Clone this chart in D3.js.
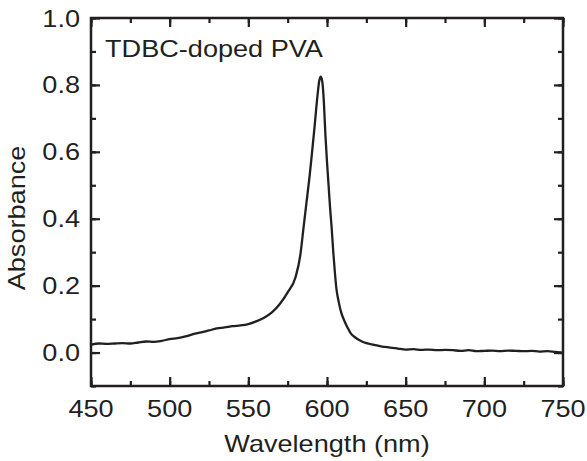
<!DOCTYPE html>
<html>
<head>
<meta charset="utf-8">
<title>TDBC-doped PVA absorbance</title>
<script src="https://d3js.org/d3.v7.min.js"></script>
<style>
  body { margin: 0; background: #fff; }
  svg { display: block; }
  text { font-family: "Liberation Sans", Arial, sans-serif; fill: #231f20; }
</style>
</head>
<body>
<svg id="chart" width="587" height="461"></svg>
<script>
// wavelength (nm) and absorbance
var wavelength = [450, 455, 460, 465, 470, 475, 480, 485, 490, 495, 500, 505, 510, 515, 520, 525, 530, 535, 540, 545,
  550, 555, 560, 565, 570, 575, 580, 583, 585, 587, 589, 590, 592, 594, 595, 596, 597, 598, 599, 600,
  601, 602, 603, 604, 605, 606, 607.5, 609, 611, 613, 615, 618, 621, 625, 630, 635, 640, 645, 650, 655,
  660, 665, 670, 675, 680, 685, 690, 695, 700, 705, 710, 715, 720, 725, 730, 735, 740, 745, 750];
var absorbance = [0.024, 0.027, 0.026, 0.027, 0.028, 0.027, 0.030, 0.033, 0.032, 0.035, 0.040, 0.043, 0.048, 0.055, 0.060, 0.066, 0.072, 0.075, 0.079, 0.081,
  0.085, 0.093, 0.104, 0.120, 0.145, 0.180, 0.225, 0.29, 0.37, 0.45, 0.53, 0.575, 0.67, 0.77, 0.81, 0.825, 0.81, 0.75, 0.65, 0.57,
  0.50, 0.43, 0.37, 0.30, 0.24, 0.19, 0.15, 0.12, 0.095, 0.075, 0.058, 0.045, 0.036, 0.028, 0.023, 0.018, 0.015, 0.012, 0.009, 0.010,
  0.008, 0.009, 0.007, 0.008, 0.007, 0.005, 0.007, 0.004, 0.005, 0.006, 0.004, 0.006, 0.005, 0.004, 0.005, 0.003, 0.004, 0.002, 0.0];

var xTicks = [450, 500, 550, 600, 650, 700, 750];
var yTicks = [0.0, 0.2, 0.4, 0.6, 0.8, 1.0];
var label = "TDBC-doped PVA";

var ink = "#231f20";
var stretch = 1.13;   // text in the picture is a bit wide
var marginLeft = 91, marginTop = 18, width = 472, height = 368;

var svg = d3.select("#chart");
var g = svg.append("g").attr("transform", "translate(" + marginLeft + "," + marginTop + ")");

var x = d3.scaleLinear().domain([450, 750]).range([0, width]);
var y = d3.scaleLinear().domain([-0.1, 1.0]).range([height, 0]);

var xMinor = d3.range(450, 751, 25);
var yMinor = d3.range(-0.1, 1.01, 0.1);

function addText(px, py, str, anchor, rot) {
  var t = "translate(" + px + "," + py + ")" + (rot ? " rotate(" + rot + ")" : "") + " scale(" + stretch + ",1)";
  return g.append("text").attr("transform", t).attr("text-anchor", anchor)
    .attr("font-size", 24).text(str);
}

// inward ticks on all four sides
function ticks(axisFn, scale, vals, len, tr) {
  g.append("g").attr("transform", tr)
    .call(axisFn(scale).tickValues(vals).tickSize(len).tickFormat(""))
    .call(function (s) { s.select(".domain").remove(); s.selectAll("line").attr("stroke", ink).attr("stroke-width", 2.2); });
}
ticks(d3.axisTop, x, xMinor, 5, "translate(0," + height + ")");
ticks(d3.axisTop, x, xTicks, 9, "translate(0," + height + ")");
ticks(d3.axisBottom, x, xMinor, 5, "translate(0,0)");
ticks(d3.axisBottom, x, xTicks, 9, "translate(0,0)");
ticks(d3.axisRight, y, yMinor, 5, "translate(0,0)");
ticks(d3.axisRight, y, yTicks, 9, "translate(0,0)");
ticks(d3.axisLeft, y, yMinor, 5, "translate(" + width + ",0)");
ticks(d3.axisLeft, y, yTicks, 9, "translate(" + width + ",0)");

g.append("rect").attr("width", width).attr("height", height)
  .attr("fill", "none").attr("stroke", ink).attr("stroke-width", 2.5);

// tick labels
xTicks.forEach(function (v) { addText(x(v), height + 31, v, "middle"); });
yTicks.forEach(function (v) { addText(-11, y(v) + 8.5, d3.format(".1f")(v), "end"); });

// axis titles
addText(width / 2, height + 66, "Wavelength (nm)", "middle");
addText(-66, 200, "Absorbance", "middle", -90);

addText(14, 38.5, label, "start");

var data = wavelength.map(function (w, i) { return [w, absorbance[i]]; });
g.append("path").datum(data)
  .attr("fill", "none").attr("stroke", ink).attr("stroke-width", 2.3)
  .attr("stroke-linejoin", "round")
  .attr("d", d3.line().x(function (d) { return x(d[0]); }).y(function (d) { return y(d[1]); }).curve(d3.curveMonotoneX));
</script>
</body>
</html>
